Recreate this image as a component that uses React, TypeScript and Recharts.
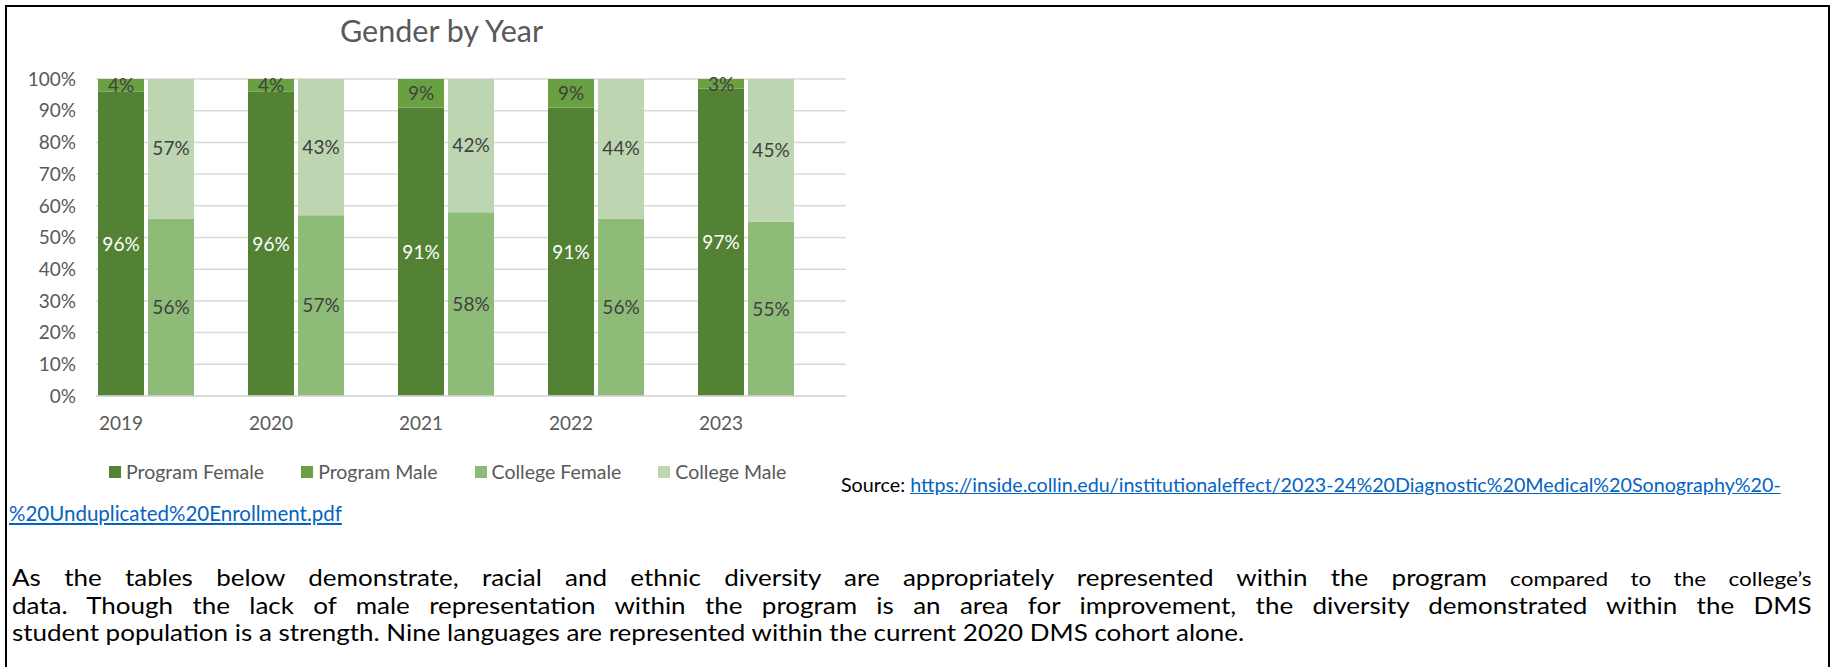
import React from 'react';
import { BarChart, Bar, XAxis, YAxis, CartesianGrid, LabelList } from 'recharts';

const years = ['2019', '2020', '2021', '2022', '2023'];
const programFemale = [96, 96, 91, 91, 97];
const programMale = [4, 4, 9, 9, 3];
const collegeFemale = [56, 57, 58, 56, 55];
const collegeMale = [57, 43, 42, 44, 45];
const yTicks = [0, 10, 20, 30, 40, 50, 60, 70, 80, 90, 100];

const seriesNames = ['Program Female', 'Program Male', 'College Female', 'College Male'];
const seriesColors = ['#548235', '#69a142', '#8fbb78', '#bdd5b1'];

const data = years.map((year, i) => ({
    year,
    programFemale: programFemale[i],
    programMale: programMale[i],
    collegeFemale: collegeFemale[i],
    collegeMale: collegeMale[i],
}));

const FONT = 'Lato, "Open Sans", sans-serif';
const GREY = '#595959';
const LABEL = '#404040';
const LINK = '#0563c1';
const BAR_SIZE = 46;
const BAR_GAP = 4;

const pct = (v: any) => `${v}%`;

// year label sits under the program bar, not the middle of the band
const YearTick = (props: any) => {
    const { x, y, payload } = props;
    return (
        <text x={x - (BAR_SIZE + BAR_GAP)} y={y} dy="0.71em" textAnchor="middle"
            fill={GREY} fontSize={19} fontFamily={FONT}>
            {payload.value}
        </text>
    );
};

const labelStyle = { fontSize: 19, fontFamily: FONT };

// page text is wider than Lato, so stretch it a little and justify like Word does
const STRETCH = 1.155;
const lineStyle = (last: boolean): React.CSSProperties => ({
    width: Math.round(1800 / STRETCH),
    textAlign: last ? 'left' : 'justify',
    textAlignLast: last ? 'left' : 'justify',
});

const App: React.FC = () => {
    return (
        <div style={{
            position: 'absolute', left: 0, top: 0, width: 1835, height: 667,
            background: '#fff', overflow: 'hidden', fontFamily: FONT,
        }}>
            <div style={{
                position: 'absolute', left: 5, top: 5, width: 1825, height: 720,
                border: '2px solid #000', boxSizing: 'border-box',
            }} />

            <div style={{
                position: 'absolute', left: 0, top: 13, width: 883, textAlign: 'center',
                fontSize: 30.5, lineHeight: '34px', color: GREY,
            }}>
                Gender by Year
            </div>

            <div style={{ position: 'absolute', left: 0, top: 0 }}>
                <BarChart
                    width={860}
                    height={440}
                    data={data}
                    margin={{ top: 79, right: 14, bottom: 4, left: 0 }}
                    barSize={BAR_SIZE}
                    barGap={BAR_GAP}
                >
                    <CartesianGrid vertical={false} stroke="#d9d9d9" strokeWidth={1.5} />
                    <XAxis
                        dataKey="year"
                        height={40}
                        axisLine={{ stroke: '#d9d9d9', strokeWidth: 1.5 }}
                        tickLine={false}
                        tickMargin={15}
                        tick={<YearTick />}
                        interval={0}
                    />
                    <YAxis
                        width={96}
                        domain={[0, 100]}
                        ticks={yTicks}
                        allowDataOverflow
                        tickFormatter={pct}
                        axisLine={false}
                        tickLine={false}
                        tickMargin={14}
                        tick={{ fill: GREY, fontSize: 19, fontFamily: FONT }}
                    />
                    <Bar dataKey="programFemale" stackId="program" fill={seriesColors[0]} isAnimationActive={false}>
                        <LabelList dataKey="programFemale" position="center" formatter={pct} fill="#ffffff" {...labelStyle} />
                    </Bar>
                    <Bar dataKey="programMale" stackId="program" fill={seriesColors[1]} isAnimationActive={false}>
                        <LabelList dataKey="programMale" position="center" formatter={pct} fill={LABEL} {...labelStyle} />
                    </Bar>
                    <Bar dataKey="collegeFemale" stackId="college" fill={seriesColors[2]} isAnimationActive={false}>
                        <LabelList dataKey="collegeFemale" position="center" formatter={pct} fill={LABEL} {...labelStyle} />
                    </Bar>
                    <Bar dataKey="collegeMale" stackId="college" fill={seriesColors[3]} isAnimationActive={false}>
                        <LabelList dataKey="collegeMale" position="center" formatter={pct} fill={LABEL} {...labelStyle} />
                    </Bar>
                    {/* empty third slot, keeps the gap between year groups */}
                    <Bar dataKey="spacer" stackId="spacer" fill="none" legendType="none" isAnimationActive={false} />
                </BarChart>
            </div>

            <div style={{
                position: 'absolute', left: 109, top: 460, display: 'flex', gap: 37,
                fontSize: 19.5, lineHeight: '24px', color: GREY, whiteSpace: 'nowrap',
            }}>
                {seriesNames.map((name, i) => (
                    <div key={name} style={{ display: 'flex', alignItems: 'center' }}>
                        <span style={{ width: 12, height: 12, background: seriesColors[i], marginRight: 5 }} />
                        {name}
                    </div>
                ))}
            </div>

            <div style={{
                position: 'absolute', left: 841, top: 473, fontSize: 19.7, lineHeight: '24px',
                color: '#000', whiteSpace: 'nowrap',
            }}>
                Source:{' '}
                <a href="#" style={{ color: LINK }}>
                    https://inside.collin.edu/institutionaleffect/2023-24%20Diagnostic%20Medical%20Sonography%20-
                </a>
            </div>
            <div style={{
                position: 'absolute', left: 9, top: 501, fontSize: 20.5, lineHeight: '24px',
                whiteSpace: 'nowrap',
            }}>
                <a href="#" style={{ color: LINK }}>%20Unduplicated%20Enrollment.pdf</a>
            </div>

            <div style={{
                position: 'absolute', left: 12, top: 564, fontSize: 22.5, lineHeight: '27px',
                color: '#000', whiteSpace: 'nowrap',
                transform: `scaleX(${STRETCH})`, transformOrigin: 'left top',
            }}>
                <div style={lineStyle(false)}>
                    As the tables below demonstrate, racial and ethnic diversity are appropriately represented within the program{' '}
                    <span style={{ fontSize: 19.5 }}>compared to the college’s</span>
                </div>
                <div style={lineStyle(false)}>
                    data. Though the lack of male representation within the program is an area for improvement, the diversity demonstrated within the DMS
                </div>
                <div style={lineStyle(true)}>
                    student population is a strength. Nine languages are represented within the current 2020 DMS cohort alone.
                </div>
            </div>
        </div>
    );
};

export default App;
